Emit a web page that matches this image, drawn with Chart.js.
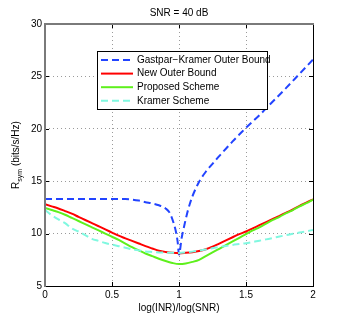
<!DOCTYPE html>
<html><head><meta charset="utf-8">
<script src="https://cdn.jsdelivr.net/npm/chart.js@4/dist/chart.umd.min.js"></script>
<style>html,body{margin:0;padding:0;background:#fff}canvas{display:block}</style>
</head><body>
<canvas id="c" width="346" height="322"></canvas>
<script>
const titleText = 'SNR = 40 dB';
const xAxisTitle = 'log(INR)/log(SNR)';
const yTitleMain = 'R', yTitleSub = 'sym', yTitleRest = ' (bits/s/Hz)';
const xTicks = [0, 0.5, 1, 1.5, 2];
const yTicks = [5, 10, 15, 20, 25, 30];
const seriesLabels = ['Gastpar\u2212Kramer Outer Bound', 'New Outer Bound', 'Proposed Scheme', 'Kramer Scheme'];

const xs = [0,0.05,0.1,0.15,0.2,0.25,0.3,0.35,0.4,0.45,0.5,0.55,0.6,0.65,0.7,0.75,0.8,0.85,0.9,0.95,1.0,
            1.05,1.1,1.15,1.2,1.25,1.3,1.35,1.4,1.45,1.5,1.55,1.6,1.65,1.7,1.75,1.8,1.85,1.9,1.95,2.0];
const newOuter = [12.8,12.6,12.4,12.15,11.9,11.6,11.3,11.0,10.7,10.4,10.1,9.8,9.55,9.3,9.05,8.8,8.58,8.37,8.25,8.17,8.13,
                  8.17,8.23,8.33,8.5,8.75,9.05,9.35,9.65,9.95,10.2,10.5,10.8,11.1,11.4,11.7,12.0,12.3,12.65,12.95,13.27];
const proposed = [12.45,12.25,12.05,11.8,11.5,11.2,10.9,10.6,10.3,10.0,9.7,9.4,9.05,8.7,8.4,8.1,7.85,7.6,7.38,7.2,7.1,
                  7.15,7.3,7.5,7.85,8.2,8.55,8.9,9.25,9.6,9.95,10.3,10.6,10.95,11.3,11.6,11.95,12.25,12.6,12.9,13.25];
const kramer = [12.25,11.75,11.35,11.0,10.5,10.2,9.85,9.5,9.3,9.1,8.95,8.8,8.65,8.5,8.4,8.3,8.25,8.2,8.18,8.17,8.15,
                8.2,8.28,8.38,8.48,8.6,8.72,8.82,8.92,9.0,9.08,9.2,9.32,9.45,9.58,9.72,9.85,9.98,10.1,10.22,10.35];
const gkX = [0,0.1,0.2,0.3,0.4,0.5,0.6,0.65,0.7,0.75,0.8,0.85,0.9,0.93,0.96,0.98,0.99,1.0,1.02,1.04,1.06,1.08,1.1,1.125,1.15,1.2,1.25,1.3,1.35,1.4,1.45,1.5,1.6,1.7,1.8,1.9,2.0];
const gkOuter = [13.3,13.3,13.3,13.3,13.3,13.3,13.3,13.25,13.15,13.0,12.88,12.7,12.4,12.0,11.0,10.0,9.2,8.0,9.6,10.8,11.9,12.8,13.55,14.3,14.95,15.9,16.65,17.4,18.1,18.8,19.45,20.1,21.3,22.6,23.9,25.25,26.6];

const FONT = "'Liberation Sans', Arial, Helvetica, sans-serif";
const pts = (xa, ya) => xa.map((x, i) => ({x: x, y: ya[i]}));

const colors = ['#2244ff', '#ff0000', '#5ef01c', '#80f8e0'];
const dashes = [[7,4], [], [], [7,4]];

const deco = {
  id: 'deco',
  afterDraw(chart) {
    const ctx = chart.ctx, a = chart.chartArea;
    const sx = chart.scales.x, sy = chart.scales.y;
    ctx.save();
    const line = (x1, y1, x2, y2) => { ctx.beginPath(); ctx.moveTo(x1, y1); ctx.lineTo(x2, y2); ctx.stroke(); };
    ctx.strokeStyle = '#000'; ctx.lineWidth = 1;
    xTicks.slice(1, -1).forEach(v => {
      const p = Math.round(sx.getPixelForValue(v)) + 0.5;
      line(p, a.bottom, p, a.bottom - 4); line(p, a.top, p, a.top + 4);
    });
    yTicks.slice(1, -1).forEach(v => {
      const p = Math.round(sy.getPixelForValue(v)) + 0.5;
      line(a.left, p, a.left + 4, p); line(a.right, p, a.right - 4, p);
    });
    ctx.strokeStyle = '#000'; ctx.lineWidth = 1;
    line(a.left, a.bottom + 0.5, a.right, a.bottom + 0.5);
    line(a.right + 0.5, a.top, a.right + 0.5, a.bottom + 1);
    ctx.strokeStyle = '#7a7a7a'; ctx.lineWidth = 2;
    line(a.left, a.bottom + 1, a.left, a.top);
    line(a.left - 1, a.top, a.right + 1, a.top);
    ctx.fillStyle = '#000';
    ctx.font = '10px ' + FONT;
    ctx.textAlign = 'center'; ctx.textBaseline = 'middle';
    ctx.fillText(titleText, (a.left + a.right) / 2, 13);
    ctx.save();
    ctx.translate(17, (a.top + a.bottom) / 2);
    ctx.rotate(-Math.PI / 2);
    ctx.textAlign = 'left'; ctx.textBaseline = 'middle';
    ctx.font = '10px ' + FONT;
    const w1 = ctx.measureText(yTitleMain).width;
    const w3 = ctx.measureText(yTitleRest).width;
    ctx.font = '7px ' + FONT;
    const w2 = ctx.measureText(yTitleSub).width;
    let x0 = -(w1 + w2 + w3) / 2;
    ctx.font = '10px ' + FONT;
    ctx.fillText(yTitleMain, x0, -1);
    ctx.font = '7px ' + FONT;
    ctx.fillText(yTitleSub, x0 + w1, 3);
    ctx.font = '10px ' + FONT;
    ctx.fillText(yTitleRest, x0 + w1 + w2, -1);
    ctx.restore();
    const lx = 97, ly = 51, lw = 170, lh = 58;
    ctx.fillStyle = '#fff';
    ctx.fillRect(lx, ly, lw, lh);
    ctx.strokeStyle = '#000'; ctx.lineWidth = 1;
    ctx.strokeRect(lx + 0.5, ly + 0.5, lw, lh);
    chart.data.datasets.forEach((ds, i) => {
      const y = 60 + i * 13.6;
      ctx.strokeStyle = ds.borderColor; ctx.lineWidth = 2;
      ctx.setLineDash(ds.borderDash || []);
      line(101, y, 133, y);
      ctx.setLineDash([]);
      ctx.fillStyle = '#000';
      ctx.font = '10px ' + FONT;
      ctx.textAlign = 'left'; ctx.textBaseline = 'middle';
      ctx.fillText(ds.label, 137, y);
    });
    ctx.restore();
  }
};

const gridColor = (min, max) => (c) => (c.tick && (c.tick.value === min || c.tick.value === max)) ? 'rgba(0,0,0,0)' : '#9a9a9a';

new Chart(document.getElementById('c'), {
  type: 'line',
  data: {
    datasets: [
      {label: seriesLabels[0], data: pts(gkX, gkOuter), borderColor: colors[0], borderDash: dashes[0], order: 4},
      {label: seriesLabels[1], data: pts(xs, newOuter), borderColor: colors[1], borderDash: dashes[1], order: 3},
      {label: seriesLabels[2], data: pts(xs, proposed), borderColor: colors[2], borderDash: dashes[2], order: 2},
      {label: seriesLabels[3], data: pts(xs, kramer), borderColor: colors[3], borderDash: dashes[3], order: 1}
    ].map(d => Object.assign(d, {borderWidth: 2, pointRadius: 0, fill: false, cubicInterpolationMode: 'monotone'}))
  },
  options: {
    responsive: false,
    animation: false,
    layout: {padding: {left: 0, right: 33, top: 24, bottom: 0}},
    plugins: {legend: {display: false}, title: {display: false}, tooltip: {enabled: false}},
    scales: {
      x: {
        type: 'linear', min: 0, max: 2,
        afterBuildTicks: (s) => { s.ticks = xTicks.map(v => ({value: v})); },
        afterFit: (s) => { s.height = 36; },
        ticks: {padding: 3, color: '#000', font: {size: 10, family: FONT}, maxRotation: 0, callback: (v) => String(v)},
        grid: {color: gridColor(0, 2), drawTicks: false, lineWidth: 1},
        border: {display: false, dash: [1, 3]},
        title: {display: true, text: xAxisTitle, color: '#000', font: {size: 10, family: FONT}, padding: {top: 0, bottom: 8}}
      },
      y: {
        type: 'linear', min: 5, max: 30,
        afterBuildTicks: (s) => { s.ticks = yTicks.map(v => ({value: v})); },
        afterFit: (s) => { s.width = 45; },
        ticks: {padding: 3, color: '#000', font: {size: 10, family: FONT}, callback: (v) => String(v)},
        grid: {color: gridColor(5, 30), drawTicks: false, lineWidth: 1},
        border: {display: false, dash: [1, 3]}
      }
    }
  },
  plugins: [deco]
});
</script>
</body></html>
